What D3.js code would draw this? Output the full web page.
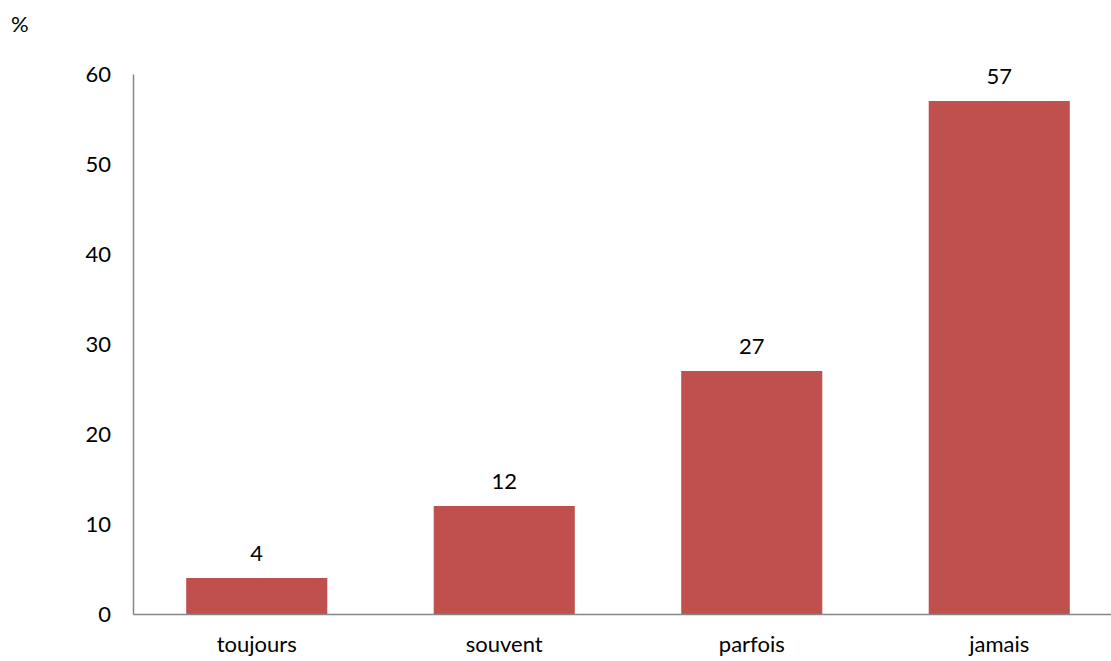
<!DOCTYPE html>
<html>
<head>
<meta charset="utf-8">
<script src="https://cdn.jsdelivr.net/npm/d3@7"></script>
<style>
  html, body { margin: 0; padding: 0; background: #fff; }
  svg text { font-family: Lato, "Open Sans", sans-serif; fill: #000; }
</style>
</head>
<body>
<svg id="chart" width="1111" height="661"></svg>
<script>
const categories = ["toujours", "souvent", "parfois", "jamais"];
const values = [4, 12, 27, 57];
const yTicks = [0, 10, 20, 30, 40, 50, 60];
const unitLabel = "%";

const svg = d3.select("#chart");
const margin = { left: 133, right: -12, top: 74, bottom: 47 };
const width = 1111, height = 661;
const fontSize = 22;
const fontFamily = "Lato, 'Open Sans', sans-serif";

const x = d3.scaleBand()
  .domain(categories)
  .range([margin.left, width - margin.right])
  .paddingInner(0.43)
  .paddingOuter(0.215);

const y = d3.scaleLinear()
  .domain([0, 60])
  .range([height - margin.bottom, margin.top]);

// bars
svg.append("g").selectAll("rect")
  .data(values)
  .join("rect")
  .attr("x", (d, i) => x(categories[i]))
  .attr("y", d => y(d))
  .attr("width", x.bandwidth())
  .attr("height", d => y(0) - y(d))
  .attr("fill", "#C0504D");

// value labels
svg.append("g").selectAll("text")
  .data(values)
  .join("text")
  .attr("x", (d, i) => x(categories[i]) + x.bandwidth() / 2)
  .attr("y", d => y(d) - 17)
  .attr("text-anchor", "middle")
  .attr("font-size", fontSize)
  .text(d => d);

// y axis
const yAxis = d3.axisLeft(y).tickValues(yTicks).tickSize(0).tickPadding(22);
const gy = svg.append("g").attr("transform", `translate(${margin.left},0)`).call(yAxis);
gy.select(".domain").attr("stroke", "#868686").attr("stroke-width", 1.5);
gy.selectAll("text").attr("font-size", fontSize).attr("font-family", fontFamily).attr("fill", "#000");

// x axis
const xAxis = d3.axisBottom(x).tickSize(0).tickPadding(22);
const gx = svg.append("g").attr("transform", `translate(0,${y(0)})`).call(xAxis);
gx.select(".domain").attr("stroke", "#868686").attr("stroke-width", 1.5);
gx.selectAll("text").attr("font-size", fontSize).attr("font-family", fontFamily).attr("fill", "#000");

// unit label
svg.append("text")
  .attr("x", 11)
  .attr("y", 32)
  .attr("font-size", fontSize)
  .text(unitLabel);
</script>
</body>
</html>
